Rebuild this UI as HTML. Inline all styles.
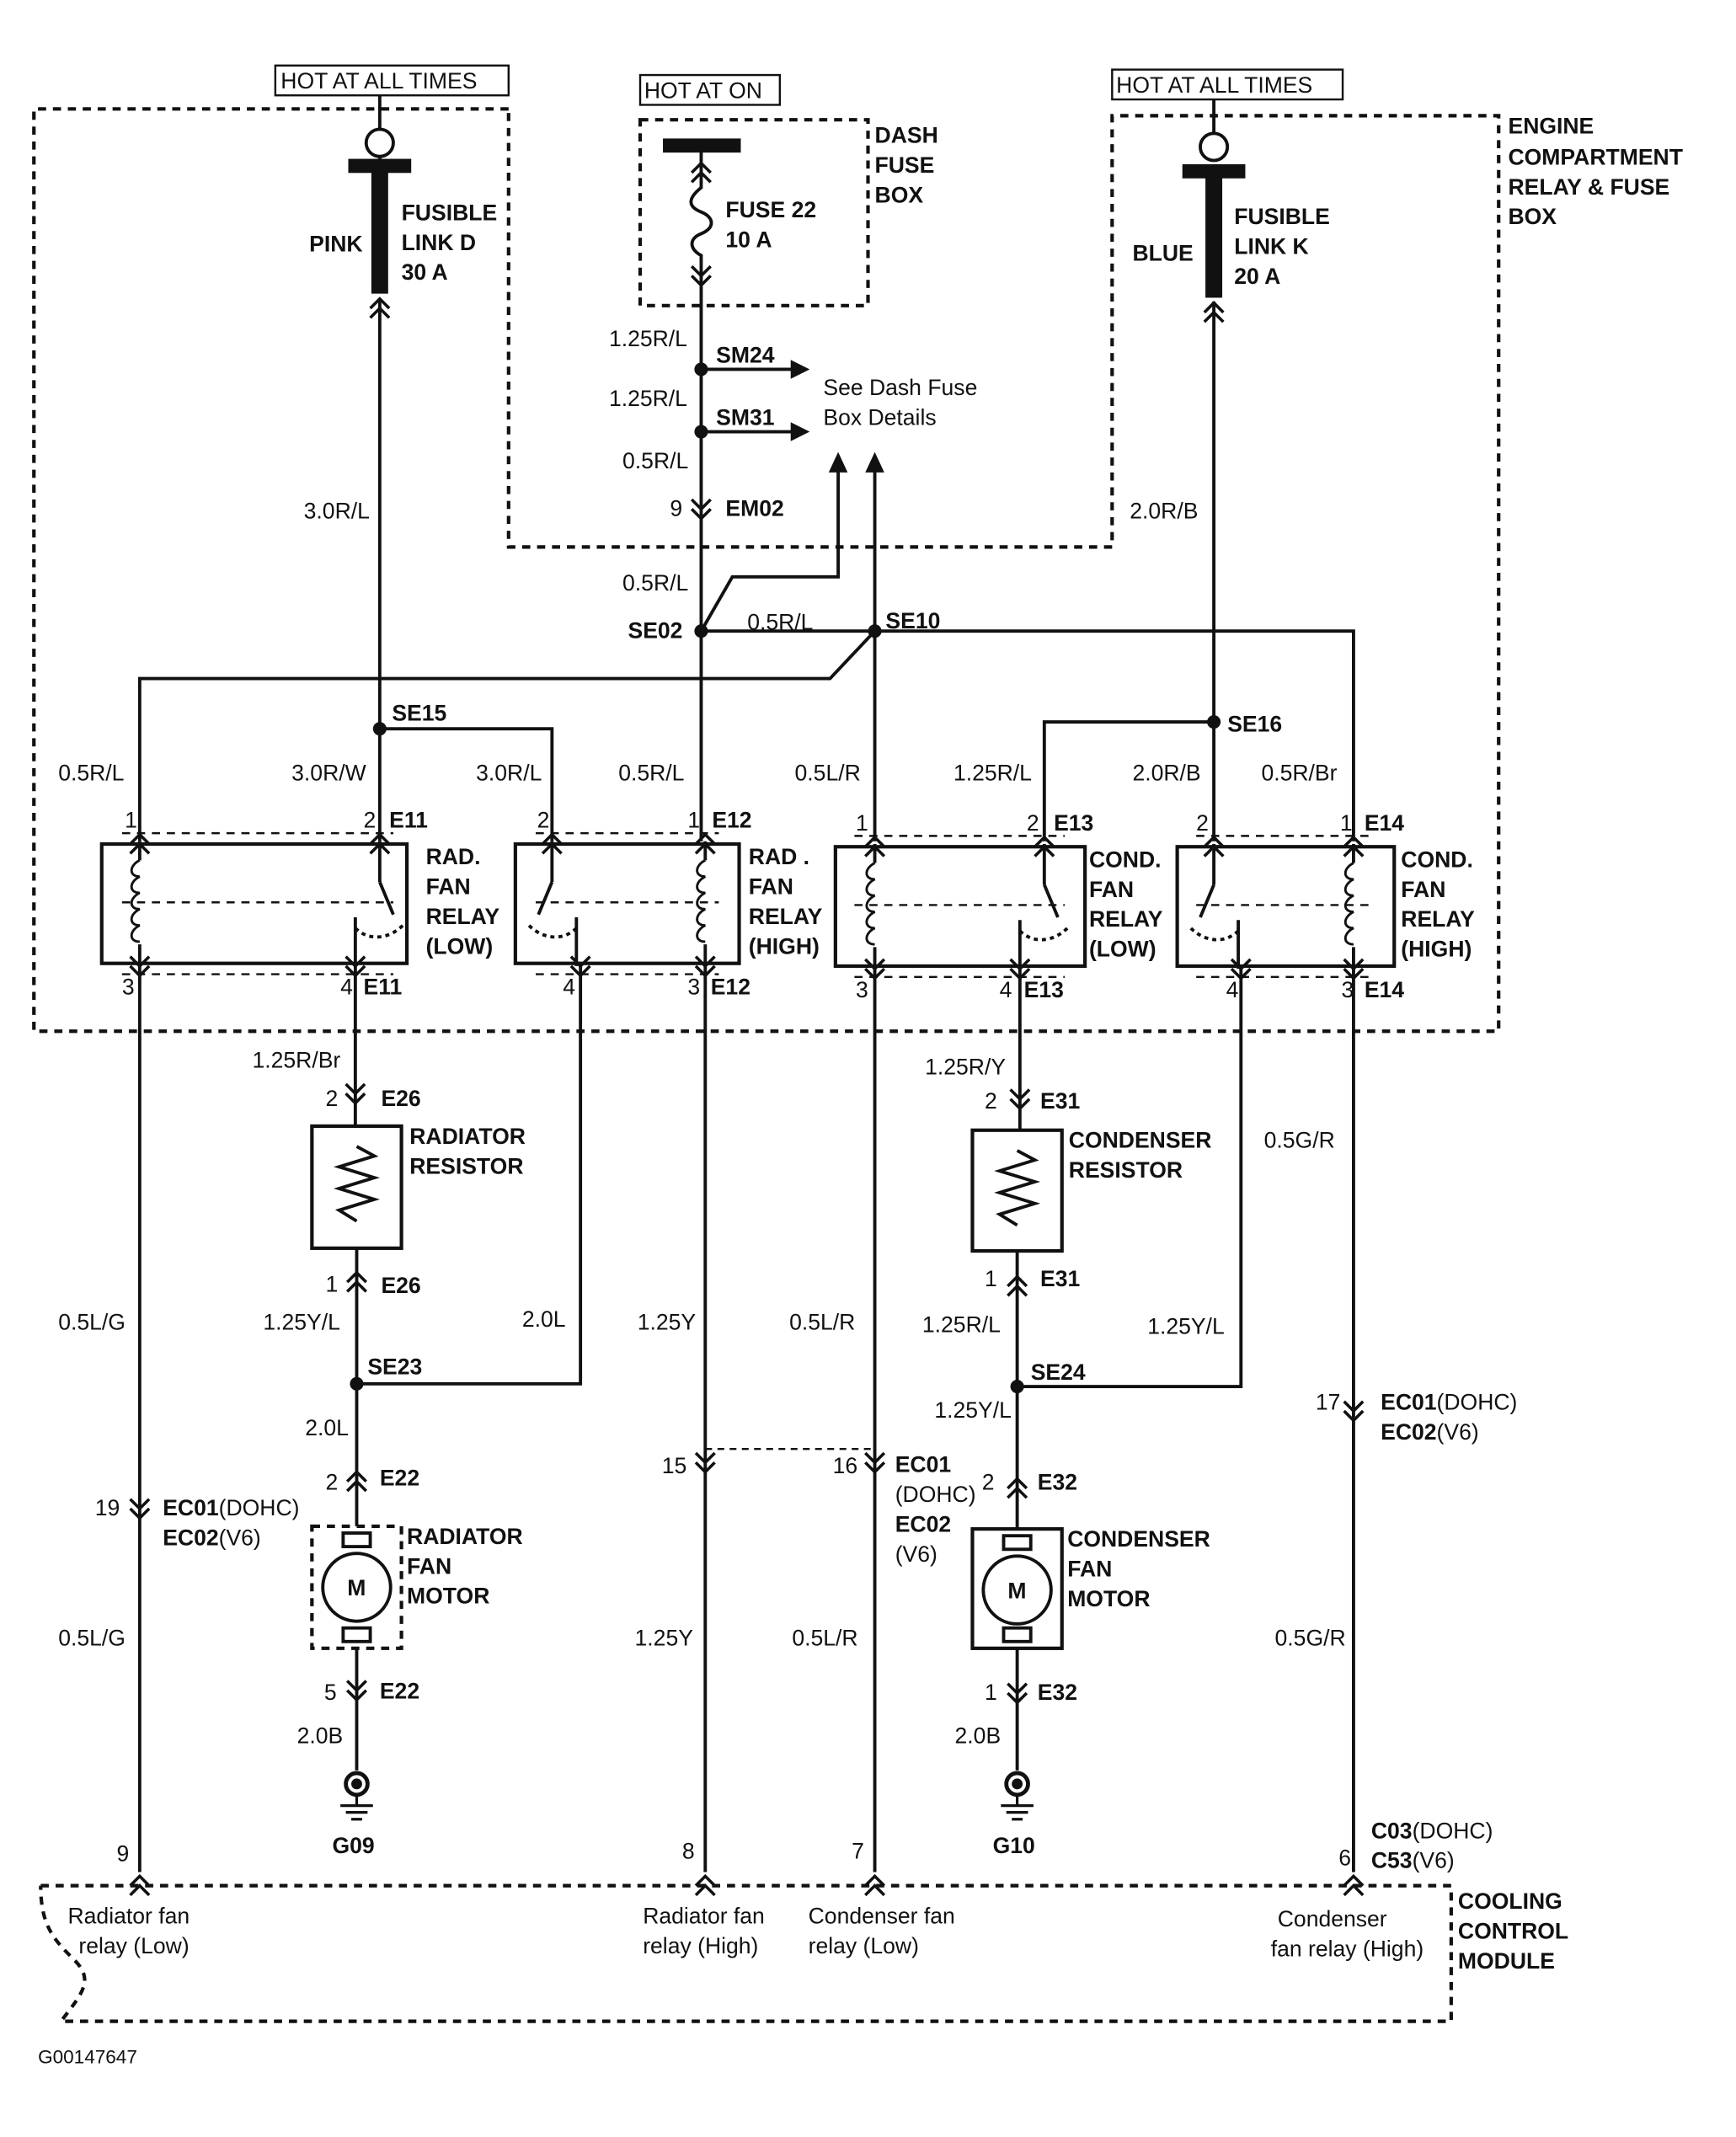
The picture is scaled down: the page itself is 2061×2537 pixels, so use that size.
<!DOCTYPE html>
<html><head><meta charset="utf-8"><style>
html,body{margin:0;padding:0;background:#fff}
svg{display:block}
text{font-family:"Liberation Sans",sans-serif;font-size:16.5px;fill:#111}
.b{font-weight:bold}
</style></head><body>
<svg width="2061" height="2537" viewBox="0 0 1280 1575" xmlns="http://www.w3.org/2000/svg">
<defs>
<g id="cd" fill="none" stroke="#111" stroke-width="2.2"><path d="M-7,-9 L0,-2 L7,-9 M-7,-2 L0,5 L7,-2"/></g>
<g id="cu" fill="none" stroke="#111" stroke-width="2.2"><path d="M-7,9 L0,2 L7,9 M-7,2 L0,-5 L7,2"/></g>
<g id="coil" fill="none" stroke="#111" stroke-width="1.8"><path d="M0,-32 c-8,4 -8,12 0,12 c-8,4 -8,12 0,12 c-8,4 -8,12 0,12 c-8,4 -8,12 0,12 c-8,4 -8,12 0,12"/></g>
<g id="gnd" stroke="#111" fill="none" stroke-width="2"><circle cx="0" cy="0" r="8" stroke-width="3"/><circle cx="0" cy="0" r="3" fill="#111"/><path d="M0,8 V16 M-12,16 H12 M-8,21 H8 M-4,26 H4"/></g>
</defs>
<g fill="none" stroke="#111" stroke-width="2.4">
<g stroke-dasharray="6,5" stroke-width="2.6">
<path d="M375,80 H25 V760 H1105 V85 H820 V403 H375 Z"/>
<rect x="472" y="88" width="168" height="137"/>
<path d="M30,1390 H1070 V1490 H45 C60,1470 70,1460 55,1445 C40,1430 30,1420 30,1390"/>
<rect x="230" y="1125" width="66" height="90"/>
</g>
<rect x="203" y="48" width="172" height="22" stroke-width="1.5"/>
<rect x="472" y="55" width="103" height="22" stroke-width="1.5"/>
<rect x="820" y="51" width="170" height="22" stroke-width="1.5"/>
<path d="M280,70 V95"/><circle cx="280" cy="105" r="10"/>
<path d="M280,115 V122"/>
<rect x="258" y="118" width="44" height="8" fill="#111"/>
<rect x="275" y="128" width="10" height="87" fill="#111"/>
<path d="M280,220 V620"/>
<path d="M895,73 V98"/><circle cx="895" cy="108" r="10"/>
<rect x="873" y="122" width="44" height="8" fill="#111"/>
<rect x="890" y="132" width="10" height="86" fill="#111"/>
<path d="M895,222 V620"/>
<rect x="490" y="103" width="55" height="8" fill="#111"/>
<path d="M517,111 V138 c-10,8 -10,14 0,18 c10,4 10,12 0,16 c-10,4 -8,12 0,16 V620"/>
<path d="M517,272 H585 M517,318 H585"/>
<path d="M517,465 L540,425 H618 V345 M645,465 V345"/>
<path d="M517,465 H998 V620"/>
<path d="M645,465 V620"/>
<path d="M645,465 L612,500 H103 V620"/>
<path d="M280,537 H407 V620"/>
<path d="M895,532 H770 V620"/>
<g stroke-width="2.6">
<rect x="75" y="622" width="225" height="88"/>
<rect x="380" y="622" width="165" height="88"/>
<rect x="616" y="624" width="184" height="88"/>
<rect x="868" y="624" width="160" height="88"/>
</g>
<g stroke-dasharray="6,5" stroke-width="1.5">
<path d="M90,614 H290 M90,718 H290 M90,665 H290"/>
<path d="M395,614 H530 M395,718 H530 M395,665 H530"/>
<path d="M630,616 H785 M630,720 H785 M630,667 H785"/>
<path d="M882,616 H1012 M882,720 H1012 M882,667 H1012"/>
</g>
<path d="M103,620 V634 M103,696 V712 M280,620 V650 M262,676 V712 M407,620 V650 M425,676 V712 M520,620 V634 M520,696 V712 M645,622 V636 M645,698 V714 M770,622 V652 M752,678 V714 M895,622 V652 M913,678 V714 M998,622 V636 M998,698 V714"/>
<path d="M280,650 L290,674 M407,650 L397,674 M770,652 L780,676 M895,652 L885,676"/>
<path d="M262,684 c10,10 25,8 35,-2 M425,684 c-10,10 -25,8 -35,-2 M752,686 c10,10 25,8 35,-2 M913,686 c-10,10 -25,8 -35,-2" stroke-dasharray="3,3"/>
<use href="#coil" x="103" y="666"/><use href="#coil" x="520" y="666"/><use href="#coil" x="645" y="668"/><use href="#coil" x="998" y="668"/>
<path d="M103,712 V1380"/>
<path d="M262,712 V830 M263,920 V1125 M263,1215 V1305"/>
<path d="M263,1020 H428 V712"/>
<path d="M520,712 V1380 M645,714 V1380"/>
<path d="M520,1068 H645" stroke-dasharray="5,4" stroke-width="1.5"/>
<path d="M752,714 V833 M750,922 V1127 M750,1215 V1305"/>
<path d="M750,1022 H915 V714"/>
<path d="M998,714 V1380"/>
<rect x="230" y="830" width="66" height="90" stroke-width="2.6"/>
<path d="M263,845 L276,852 L250,860 L276,868 L250,876 L276,884 L250,892 L263,900"/>
<rect x="717" y="833" width="66" height="89" stroke-width="2.6"/>
<path d="M750,848 L763,855 L737,863 L763,871 L737,879 L763,887 L737,895 L750,903"/>
<rect x="717" y="1127" width="66" height="88" stroke-width="2.6"/>
<rect x="740" y="1132" width="20" height="10"/><rect x="740" y="1200" width="20" height="10"/>
<circle cx="750" cy="1172" r="25"/>
<rect x="253" y="1130" width="20" height="10"/><rect x="253" y="1200" width="20" height="10"/>
<circle cx="263" cy="1170" r="25"/>
</g>
<g fill="#111">
<circle cx="517" cy="272" r="5"/><circle cx="517" cy="318" r="5"/><circle cx="517" cy="465" r="5"/><circle cx="645" cy="465" r="5"/>
<circle cx="280" cy="537" r="5"/><circle cx="895" cy="532" r="5"/><circle cx="263" cy="1020" r="5"/><circle cx="750" cy="1022" r="5"/>
<path d="M583,265 L597,272 L583,279 Z M583,311 L597,318 L583,325 Z M611,348 L618,333 L625,348 Z M638,348 L645,333 L652,348 Z"/>
</g>
<use href="#cu" x="280" y="225"/><use href="#cu" x="895" y="228"/>
<use href="#cu" x="517" y="125"/><use href="#cd" x="517" y="205"/><use href="#cd" x="517" y="377"/>
<use href="#cu" x="103" y="620"/><use href="#cu" x="280" y="620"/><use href="#cu" x="407" y="620"/><use href="#cu" x="520" y="620"/>
<use href="#cu" x="645" y="622"/><use href="#cu" x="770" y="622"/><use href="#cu" x="895" y="622"/><use href="#cu" x="998" y="622"/>
<use href="#cd" x="103" y="714"/><use href="#cd" x="262" y="714"/><use href="#cd" x="428" y="714"/><use href="#cd" x="520" y="714"/>
<use href="#cd" x="645" y="716"/><use href="#cd" x="752" y="716"/><use href="#cd" x="915" y="716"/><use href="#cd" x="998" y="716"/>
<use href="#cd" x="262" y="808"/><use href="#cu" x="263" y="943"/><use href="#cu" x="263" y="1090"/><use href="#cd" x="263" y="1248"/>
<use href="#cd" x="752" y="812"/><use href="#cu" x="750" y="946"/><use href="#cu" x="750" y="1095"/><use href="#cd" x="750" y="1250"/>
<use href="#cd" x="520" y="1080"/><use href="#cd" x="645" y="1080"/><use href="#cd" x="998" y="1042"/><use href="#cd" x="103" y="1114"/>
<use href="#cu" x="103" y="1388"/><use href="#cu" x="520" y="1388"/><use href="#cu" x="645" y="1388"/><use href="#cu" x="998" y="1388"/>
<use href="#gnd" x="263" y="1315"/><use href="#gnd" x="750" y="1315"/>
<text x="207" y="65">HOT AT ALL TIMES</text>
<text x="475" y="72">HOT AT ON</text>
<text x="823" y="68">HOT AT ALL TIMES</text>
<g class="b">
<text x="645" y="105" class="b">DASH</text><text x="645" y="127" class="b">FUSE</text><text x="645" y="149" class="b">BOX</text>
<text x="1112" y="98" class="b">ENGINE</text><text x="1112" y="121" class="b">COMPARTMENT</text><text x="1112" y="143" class="b">RELAY &amp; FUSE</text><text x="1112" y="165" class="b">BOX</text>
<text x="296" y="162" class="b">FUSIBLE</text><text x="296" y="184" class="b">LINK D</text><text x="296" y="206" class="b">30 A</text><text x="228" y="185" class="b">PINK</text>
<text x="535" y="160" class="b">FUSE 22</text><text x="535" y="182" class="b">10 A</text>
<text x="910" y="165" class="b">FUSIBLE</text><text x="910" y="187" class="b">LINK K</text><text x="910" y="209" class="b">20 A</text><text x="835" y="192" class="b">BLUE</text>
<text x="528" y="267" class="b">SM24</text><text x="528" y="313" class="b">SM31</text><text x="535" y="380" class="b">EM02</text>
<text x="463" y="470" class="b">SE02</text><text x="653" y="463" class="b">SE10</text><text x="289" y="531" class="b">SE15</text><text x="905" y="539" class="b">SE16</text>
<text x="287" y="610" class="b">E11</text><text x="525" y="610" class="b">E12</text><text x="777" y="612" class="b">E13</text><text x="1006" y="612" class="b">E14</text>
<text x="314" y="637" class="b">RAD.</text><text x="314" y="659" class="b">FAN</text><text x="314" y="681" class="b">RELAY</text><text x="314" y="703" class="b">(LOW)</text>
<text x="552" y="637" class="b">RAD .</text><text x="552" y="659" class="b">FAN</text><text x="552" y="681" class="b">RELAY</text><text x="552" y="703" class="b">(HIGH)</text>
<text x="803" y="639" class="b">COND.</text><text x="803" y="661" class="b">FAN</text><text x="803" y="683" class="b">RELAY</text><text x="803" y="705" class="b">(LOW)</text>
<text x="1033" y="639" class="b">COND.</text><text x="1033" y="661" class="b">FAN</text><text x="1033" y="683" class="b">RELAY</text><text x="1033" y="705" class="b">(HIGH)</text>
<text x="268" y="733" class="b">E11</text><text x="524" y="733" class="b">E12</text><text x="755" y="735" class="b">E13</text><text x="1006" y="735" class="b">E14</text>
<text x="281" y="815" class="b">E26</text><text x="302" y="843" class="b">RADIATOR</text><text x="302" y="865" class="b">RESISTOR</text>
<text x="767" y="817" class="b">E31</text><text x="788" y="846" class="b">CONDENSER</text><text x="788" y="868" class="b">RESISTOR</text>
<text x="281" y="953" class="b">E26</text><text x="767" y="948" class="b">E31</text>
<text x="271" y="1013" class="b">SE23</text><text x="760" y="1017" class="b">SE24</text>
<text x="280" y="1095" class="b">E22</text><text x="765" y="1098" class="b">E32</text>
<text x="300" y="1138" class="b">RADIATOR</text><text x="300" y="1160" class="b">FAN</text><text x="300" y="1182" class="b">MOTOR</text>
<text x="787" y="1140" class="b">CONDENSER</text><text x="787" y="1162" class="b">FAN</text><text x="787" y="1184" class="b">MOTOR</text>
<text x="280" y="1252" class="b">E22</text><text x="765" y="1253" class="b">E32</text>
<text x="245" y="1366" class="b">G09</text><text x="732" y="1366" class="b">G10</text>
<text x="1075" y="1407" class="b">COOLING</text><text x="1075" y="1429" class="b">CONTROL</text><text x="1075" y="1451" class="b">MODULE</text>
</g>
<text x="449" y="255">1.25R/L</text><text x="449" y="299">1.25R/L</text>
<text x="607" y="291">See Dash Fuse</text><text x="607" y="313">Box Details</text>
<text x="459" y="345">0.5R/L</text><text x="494" y="380">9</text>
<text x="224" y="382">3.0R/L</text><text x="833" y="382">2.0R/B</text>
<text x="459" y="435">0.5R/L</text><text x="551" y="464">0.5R/L</text>
<text x="43" y="575">0.5R/L</text><text x="215" y="575">3.0R/W</text><text x="351" y="575">3.0R/L</text><text x="456" y="575">0.5R/L</text>
<text x="586" y="575">0.5L/R</text><text x="703" y="575">1.25R/L</text><text x="835" y="575">2.0R/B</text><text x="930" y="575">0.5R/Br</text>
<text x="92" y="610">1</text><text x="268" y="610">2</text><text x="396" y="610">2</text><text x="507" y="610">1</text>
<text x="631" y="612">1</text><text x="757" y="612">2</text><text x="882" y="612">2</text><text x="988" y="612">1</text>
<text x="90" y="733">3</text><text x="251" y="733">4</text><text x="415" y="733">4</text><text x="507" y="733">3</text>
<text x="631" y="735">3</text><text x="737" y="735">4</text><text x="904" y="735">4</text><text x="989" y="735">3</text>
<text x="186" y="787">1.25R/Br</text><text x="240" y="815">2</text>
<text x="682" y="792">1.25R/Y</text><text x="726" y="817">2</text><text x="932" y="846">0.5G/R</text>
<text x="240" y="952">1</text><text x="726" y="948">1</text>
<text x="43" y="980">0.5L/G</text><text x="194" y="980">1.25Y/L</text><text x="385" y="978">2.0L</text><text x="470" y="980">1.25Y</text>
<text x="582" y="980">0.5L/R</text><text x="680" y="982">1.25R/L</text><text x="846" y="983">1.25Y/L</text>
<text x="970" y="1039">17</text><text x="1018" y="1039"><tspan class="b">EC01</tspan>(DOHC)</text><text x="1018" y="1061"><tspan class="b">EC02</tspan>(V6)</text>
<text x="225" y="1058">2.0L</text><text x="689" y="1045">1.25Y/L</text>
<text x="240" y="1098">2</text><text x="724" y="1098">2</text>
<text x="488" y="1086">15</text><text x="614" y="1086">16</text>
<text x="660" y="1085" class="b">EC01</text><text x="660" y="1107">(DOHC)</text><text x="660" y="1129" class="b">EC02</text><text x="660" y="1151">(V6)</text>
<text x="70" y="1117">19</text><text x="120" y="1117"><tspan class="b">EC01</tspan>(DOHC)</text><text x="120" y="1139"><tspan class="b">EC02</tspan>(V6)</text>
<text x="256" y="1176" class="b">M</text><text x="743" y="1178" class="b">M</text>
<text x="43" y="1213">0.5L/G</text><text x="468" y="1213">1.25Y</text><text x="584" y="1213">0.5L/R</text><text x="940" y="1213">0.5G/R</text>
<text x="239" y="1253">5</text><text x="726" y="1253">1</text>
<text x="219" y="1285">2.0B</text><text x="704" y="1285">2.0B</text>
<text x="86" y="1372">9</text><text x="503" y="1370">8</text><text x="628" y="1370">7</text><text x="987" y="1375">6</text>
<text x="1011" y="1355"><tspan class="b">C03</tspan>(DOHC)</text><text x="1011" y="1377"><tspan class="b">C53</tspan>(V6)</text>
<text x="50" y="1418">Radiator fan</text><text x="58" y="1440">relay (Low)</text>
<text x="474" y="1418">Radiator fan</text><text x="474" y="1440">relay (High)</text>
<text x="596" y="1418">Condenser fan</text><text x="596" y="1440">relay (Low)</text>
<text x="942" y="1420">Condenser</text><text x="937" y="1442">fan relay (High)</text>
<text x="28" y="1521" style="font-size:14px">G00147647</text>
</svg>
</body></html>
